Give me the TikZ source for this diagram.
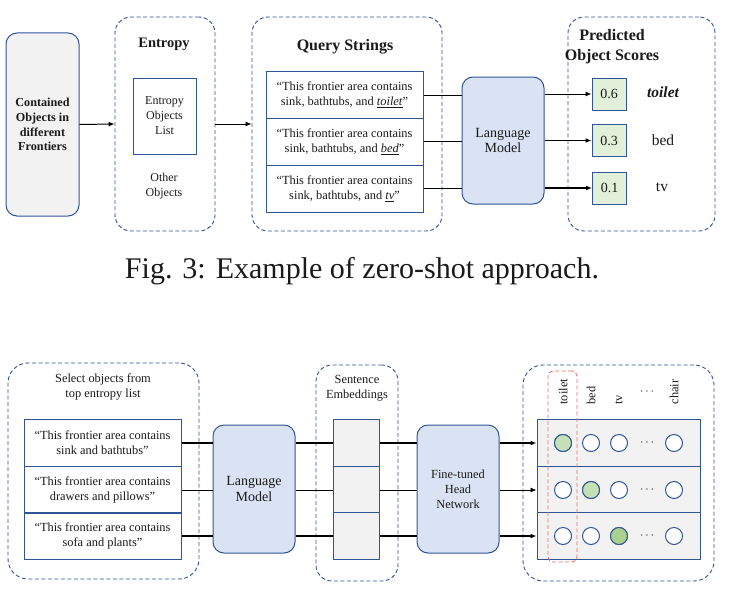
\documentclass[tikz,border=0pt]{standalone}
\usepackage{fontspec}
\setmainfont{Liberation Serif}
\usepackage{tikz}
\usetikzlibrary{arrows.meta}
\definecolor{edge}{HTML}{2F5597}
\definecolor{lmfill}{HTML}{DAE3F3}
\definecolor{greyfill}{HTML}{F2F2F2}
\definecolor{scorefill}{HTML}{E2F0D9}
\definecolor{hitA}{HTML}{C5E0B4}
\definecolor{hitB}{HTML}{A9D18E}
\definecolor{redline}{HTML}{F26B6B}
\definecolor{ink}{HTML}{1A1A1A}
\newcommand{\txt}{\fontsize{12.4}{15}\selectfont}
\newcommand{\hdr}{\fontsize{16}{20}\selectfont\bfseries}

\begin{document}
\begin{tikzpicture}[x=1pt, y=-1pt, text=ink,
	grp/.style = {draw=edge, dash pattern=on 4pt off 2.5pt, line width=0.9pt, rounded corners=16pt, inner sep=0pt},
	blk/.style = {draw=edge, fill=lmfill, line width=1pt, rounded corners=11pt, minimum width=82pt, minimum height=127pt, inner sep=0pt, align=center, font=\fontsize{14}{15.5}\selectfont},
	strbox/.style = {draw=edge, line width=1pt, minimum width=157pt, minimum height=47pt, inner sep=0pt, align=center, font=\txt},
	embbox/.style = {draw=edge, fill=greyfill, line width=1pt, minimum width=46pt, minimum height=47pt, inner sep=0pt},
	rowbox/.style = {draw=edge, fill=greyfill, line width=1pt, minimum width=163pt, minimum height=47pt, inner sep=0pt},
	score/.style = {draw=edge, fill=scorefill, line width=1pt, minimum width=34pt, minimum height=32pt, inner sep=0pt, font=\fontsize{14}{16}\selectfont},
	dot/.style = {circle, draw=edge, fill=white, line width=1pt, minimum size=17pt, inner sep=0pt},
	arr/.style = {-{Latex[length=6pt, width=5pt]}}]
\useasboundingbox (0,0) rectangle (730,594);

\node[draw=edge, fill=greyfill, line width=1pt, rounded corners=11pt, minimum width=73pt, minimum height=183pt, align=center, font=\fontsize{12.2}{14.7}\selectfont\bfseries] (cont) at (42.5,124.5) {Contained\\Objects in\\different\\Frontiers};

\node[grp, minimum width=100pt, minimum height=214pt] (entG) at (165,124) {};
\node[font=\fontsize{14.5}{17}\selectfont\bfseries] (entT) at (164,44) {Entropy};
\node[draw=edge, line width=1pt, minimum width=63pt, minimum height=76pt, align=center, font=\fontsize{12}{15}\selectfont] (entL) at (164.5,116) {Entropy\\Objects\\List};
\node[align=center, font=\fontsize{12}{15}\selectfont] (other) at (164,186) {Other\\Objects};

\node[grp, minimum width=190pt, minimum height=214pt] (qG) at (347,124) {};
\node[font=\hdr] (qT) at (345,47) {Query Strings};
\node[strbox] (q1) at (344.5,95) {“This frontier area contains\\sink, bathtubs, and \underline{\textit{toilet}}”};
\node[strbox] (q2) at (344.5,141.5) {“This frontier area contains\\sink, bathtubs, and \underline{\textit{bed}}”};
\node[strbox] (q3) at (344.5,188.5) {“This frontier area contains\\sink, bathtubs, and \underline{\textit{tv}}”};

\node[blk] (lm) at (503,140.5) {Language\\Model};

\node[grp, minimum width=147pt, minimum height=214pt] (pG) at (641.5,124) {};
\node[font=\hdr, align=center] (pT) at (612,47) {Predicted\\Object Scores};
\node[score] (s1) at (609,94) {0.6};
\node[score] (s2) at (609,140.5) {0.3};
\node[score] (s3) at (609.5,188) {0.1};
\node[font=\fontsize{15.5}{18}\selectfont\bfseries\itshape] (l1) at (663,92) {toilet};
\node[font=\fontsize{15.5}{18}\selectfont] (l2) at (663,140) {bed};
\node[font=\fontsize{15.5}{18}\selectfont] (l3) at (662,187) {tv};

\draw[arr, line width=1pt] (cont.east) -- (entG.west);
\draw[arr, line width=1pt] (entG.east) -- (qG.west);
\draw[line width=0.9pt] (q1.east) -- (q1.east -| lm.west);
\draw[line width=1.8pt] (q2.east) -- (q2.east -| lm.west);
\draw[line width=1.8pt] (q3.east) -- (q3.east -| lm.west);
\draw[arr, line width=1pt] (s1.west -| lm.east) -- (s1.west);
\draw[arr, line width=1.2pt] (s2.west -| lm.east) -- (s2.west);
\draw[arr, line width=1.2pt] (s3.west -| lm.east) -- (s3.west);

\node[font=\fontsize{30}{36}\selectfont] (cap) at (362,271) {Fig. 3: Example of zero-shot approach.};

\node[grp, rounded corners=20pt, minimum width=191pt, minimum height=216pt] (selG) at (103.5,471) {};
\node[align=center, font=\txt] (selT) at (103,387) {Select objects from\\top entropy list};
\node[strbox] (b1) at (102.5,443) {“This frontier area contains\\sink and bathtubs”};
\node[strbox] (b2) at (102.5,490) {“This frontier area contains\\drawers and pillows”};
\node[strbox] (b3) at (102.5,536) {“This frontier area contains\\sofa and plants”};

\node[blk, minimum height=128pt] (lm2) at (254,489) {Language\\Model};

\node[grp, minimum width=82pt, minimum height=216pt] (embG) at (357,473) {};
\node[align=center, font=\txt] (embT) at (357,388) {Sentence\\Embeddings};
\node[embbox] (e1) at (356,443) {};
\node[embbox] (e2) at (356,490) {};
\node[embbox] (e3) at (356,536) {};

\node[blk, minimum height=128pt, font=\txt] (ft) at (458,489) {Fine-tuned\\Head\\Network};

\node[grp, rounded corners=20pt, minimum width=191pt, minimum height=216pt] (outG) at (618.5,473) {};
\foreach \r/\y in {1/443,2/490,3/536} {
	\node[rowbox] (g\r) at (618.5,\y) {};
	\foreach \c/\x in {1/563,2/591,3/619,5/674}
		\node[dot] (c\r\c) at (\x,\y) {};
	\node[font=\txt] (d\r) at (647,\y) {$\cdots$};
}
\node[dot, fill=hitA] at (c11) {};
\node[dot, fill=hitA] at (c22) {};
\node[dot, fill=hitB] at (c33) {};
\node[draw=redline, dash pattern=on 4pt off 2.5pt, line width=0.9pt, rounded corners=5pt, minimum width=29pt, minimum height=191pt] (pick) at (562.5,466.5) {};
\foreach \x/\t in {563/toilet,591/bed,619/tv,674/chair}
	\node[rotate=90, anchor=west, font=\txt] at (\x,408) {\t};
\node[font=\txt] (dh) at (647,392) {$\cdots$};

\foreach \r/\w in {1/1.8pt,2/0.9pt,3/1.8pt} {
	\draw[line width=\w] (b\r.east) -- (b\r.east -| lm2.west);
	\draw[line width=\w] (b\r.east -| lm2.east) -- (e\r.west);
	\draw[line width=\w] (e\r.east) -- (e\r.east -| ft.west);
	\draw[arr, line width=\w] (g\r.west -| ft.east) -- (g\r.west);
}
\end{tikzpicture}
\end{document}
